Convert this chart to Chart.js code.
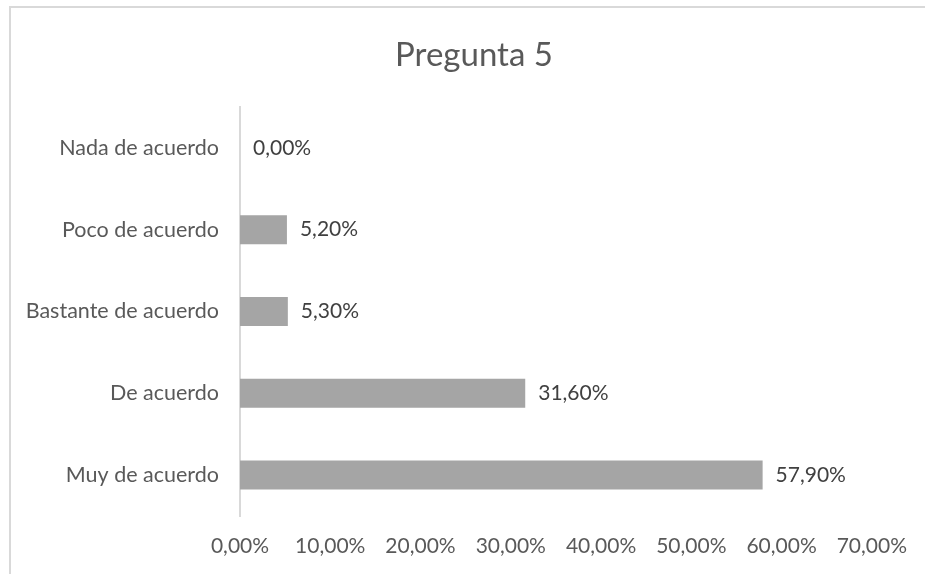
<!DOCTYPE html>
<html>
<head>
<meta charset="utf-8">
<script src="https://cdn.jsdelivr.net/npm/chart.js@4.4.0/dist/chart.umd.min.js"></script>
<style>
  html, body { margin: 0; padding: 0; background: #fff; overflow: hidden; }
  #wrap { position: relative; width: 925px; height: 574px; }
  #frame { position: absolute; left: 9px; top: 6px; width: 940px; height: 600px; border: 2px solid #d9d9d9; box-sizing: border-box; }
  #chart { position: absolute; left: 0; top: 0; }
</style>
</head>
<body>
<div id="wrap">
  <div id="frame"></div>
  <canvas id="chart" width="925" height="574"></canvas>
</div>
<script>
const chartTitle = 'Pregunta 5';
const categories = ['Nada de acuerdo', 'Poco de acuerdo', 'Bastante de acuerdo', 'De acuerdo', 'Muy de acuerdo'];
const values = [0, 5.2, 5.3, 31.6, 57.9];
const xTicks = [0, 10, 20, 30, 40, 50, 60, 70];

const FONT = 'Lato, "Open Sans", sans-serif';

function pct(v) {
  return v.toFixed(2).replace('.', ',') + '%';
}

// title drawn by hand so it sits where Excel put it
const titlePlugin = {
  id: 'excelTitle',
  afterDraw(chart) {
    const c = chart.ctx;
    c.save();
    c.font = '33px ' + FONT;
    c.fillStyle = '#595959';
    c.textAlign = 'center';
    c.textBaseline = 'middle';
    c.fillText(chartTitle, 474, 55);
    c.restore();
  }
};

// value labels at the end of each bar
const barLabels = {
  id: 'barLabels',
  afterDatasetsDraw(chart) {
    const c = chart.ctx;
    const meta = chart.getDatasetMeta(0);
    c.save();
    c.font = '21px ' + FONT;
    c.fillStyle = '#404040';
    c.textAlign = 'left';
    c.textBaseline = 'middle';
    meta.data.forEach((bar, i) => {
      c.fillText(pct(values[i]), bar.x + 13, bar.y);
    });
    c.restore();
  }
};

const ctx = document.getElementById('chart');

new Chart(ctx, {
  type: 'bar',
  data: {
    labels: categories,
    datasets: [{
      data: values,
      backgroundColor: '#a5a5a5',
      borderWidth: 0,
      barPercentage: 0.355,
      categoryPercentage: 1
    }]
  },
  options: {
    indexAxis: 'y',
    responsive: false,
    animation: false,
    layout: {
      padding: { top: 107, right: 53, bottom: 0, left: 0 }
    },
    plugins: {
      legend: { display: false },
      title: { display: false },
      tooltip: { enabled: false }
    },
    scales: {
      x: {
        min: xTicks[0],
        max: xTicks[xTicks.length - 1],
        afterBuildTicks(scale) {
          scale.ticks = xTicks.map(v => ({ value: v }));
        },
        afterFit(scale) { scale.height = 58; },
        grid: { display: false, drawTicks: false },
        border: { display: false },
        ticks: {
          color: '#595959',
          font: { family: FONT, size: 21 },
          padding: 18,
          maxRotation: 0,
          callback: v => pct(v)
        }
      },
      y: {
        afterFit(scale) { scale.width = 240; },
        grid: { display: false, drawTicks: false },
        border: { display: true, color: '#d9d9d9', width: 2 },
        ticks: {
          color: '#595959',
          font: { family: FONT, size: 21.5 },
          padding: 21
        }
      }
    }
  },
  plugins: [titlePlugin, barLabels]
});
</script>
</body>
</html>
